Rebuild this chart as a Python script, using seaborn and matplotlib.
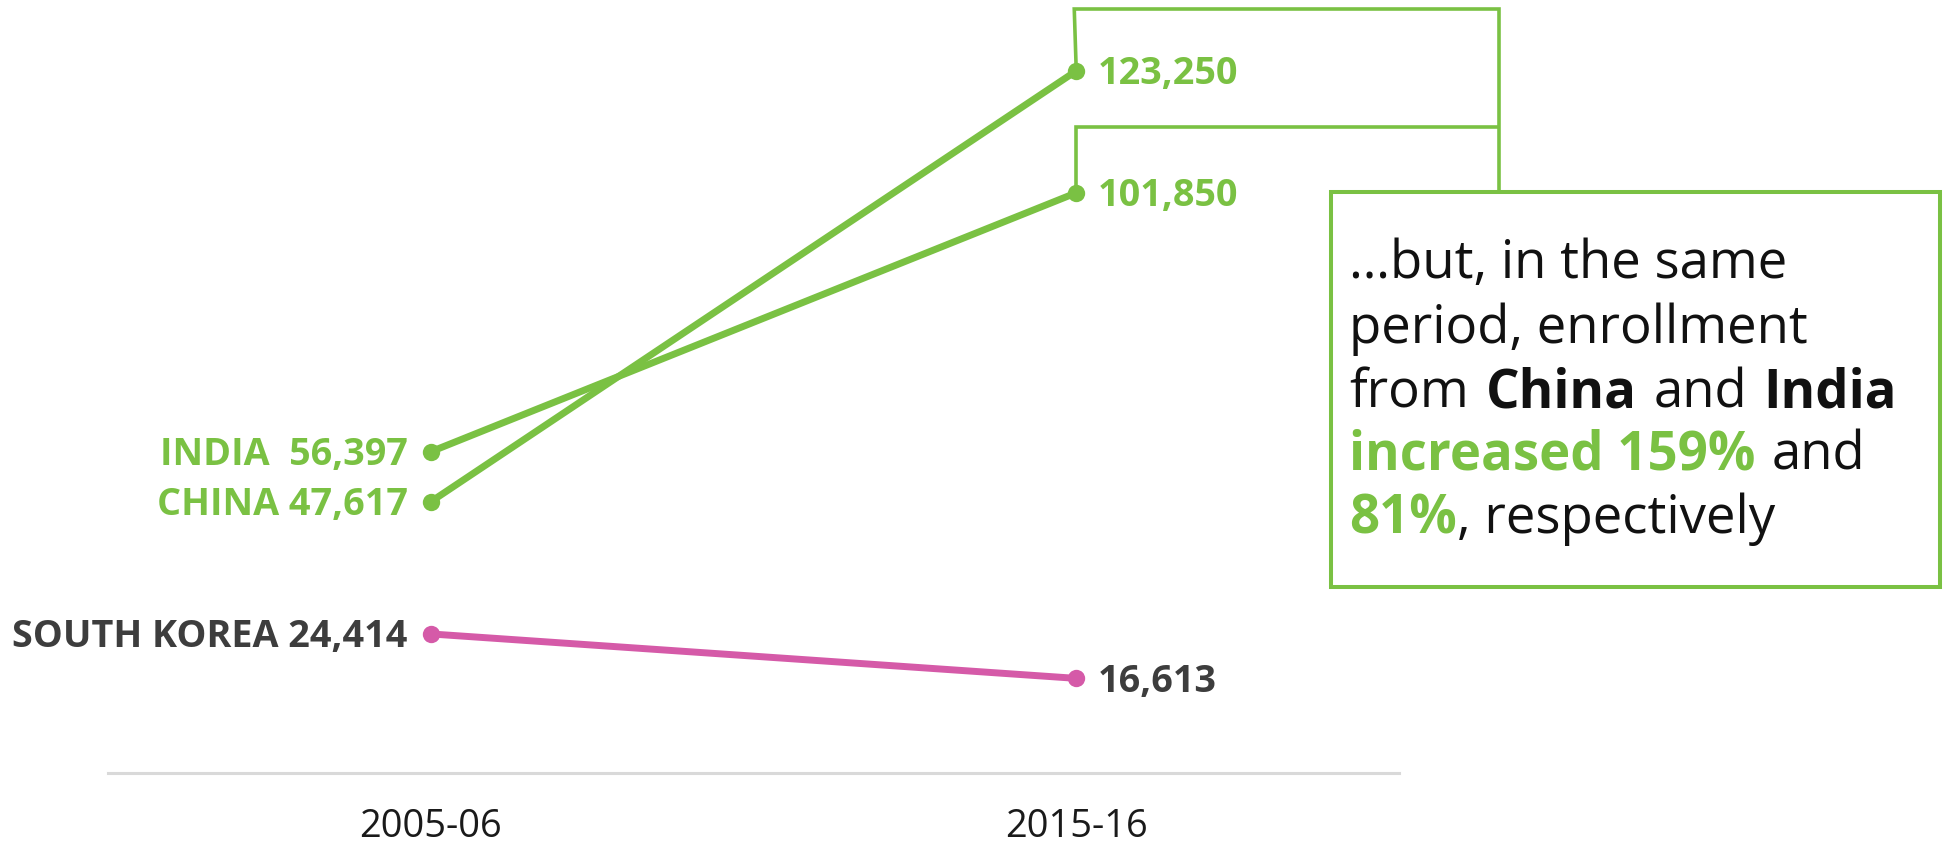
import numpy as np
import pandas as pd
import matplotlib
matplotlib.use("Agg")
import matplotlib.pyplot as plt
import seaborn as sns
from matplotlib.transforms import IdentityTransform
from matplotlib.lines import Line2D
from matplotlib.patches import Rectangle

# ---------------- data ----------------
periods = ["2005-06", "2015-16"]
countries = ["INDIA", "CHINA", "SOUTH KOREA"]
india = [56397, 101850]
china = [47617, 123250]
south_korea = [24414, 16613]

GREEN = "#7AC143"
PINK = "#D55AA8"
DARK = "#3D3D3D"
BLACK = "#111111"

sns.set_theme(style="white")
plt.rcParams["font.family"] = ["Open Sans", "DejaVu Sans"]

W, H, DPI = 1947, 844, 100
fig = plt.figure(figsize=(W / DPI, H / DPI), dpi=DPI)
fig.patch.set_facecolor("white")
AX_BOTTOM_PX = 773
ax = fig.add_axes([108 / W, 1 - AX_BOTTOM_PX / H, (1399 - 108) / W, AX_BOTTOM_PX / H])
ax.set_facecolor("white")

df = pd.DataFrame({
    "country": np.repeat(countries, len(periods)),
    "pos": list(range(len(periods))) * len(countries),
    "value": india + china + south_korea,
})
palette = {"INDIA": GREEN, "CHINA": GREEN, "SOUTH KOREA": PINK}
sns.lineplot(data=df, x="pos", y="value", hue="country", palette=palette,
             marker="o", markersize=12.5, markeredgewidth=0, linewidth=5.0,
             legend=False, ax=ax)

ax.set_xlim(-0.5, 1.5)
ax.set_ylim(0, 135700)
for s in ["top", "left", "right"]:
    ax.spines[s].set_visible(False)
ax.spines["bottom"].set_color("#D9D9D9")
ax.spines["bottom"].set_linewidth(2.2)
ax.set_yticks([])
ax.set_xticks(range(len(periods)))
ax.set_xticklabels(periods, fontsize=27.4, color="#1A1A1A")
ax.tick_params(axis="x", length=0, pad=25)
ax.set_xlabel("")
ax.set_ylabel("")

# ---------------- labels ----------------
series = {"INDIA": india, "CHINA": china, "SOUTH KOREA": south_korea}
name_colors = {"INDIA": GREEN, "CHINA": GREEN, "SOUTH KOREA": DARK}
name_gap = {"INDIA": "  ", "CHINA": " ", "SOUTH KOREA": " "}
LFS = 27.15
cap_half = 0.714 * LFS * DPI / 72 / 2
for c in countries:
    v0, v1 = series[c]
    col = name_colors[c]
    ax.annotate(f"{c}{name_gap[c]}{v0:,}", xy=(0, v0), xytext=(-23, -cap_half),
                textcoords="offset pixels", ha="right", va="baseline",
                fontsize=LFS, fontweight="bold", color=col)
    ax.annotate(f"{v1:,}", xy=(1, v1), xytext=(21, -cap_half),
                textcoords="offset pixels", ha="left", va="baseline",
                fontsize=LFS, fontweight="bold", color=col)

# ---------------- bracket + box ----------------
def disp(x, y_down):
    return x, H - y_down

ident = IdentityTransform()
pc = ax.transData.transform((1, china[1]))
pi = ax.transData.transform((1, india[1]))
BR_X = 1499
bx, by0 = disp(BR_X, 9)
_, by1 = disp(BR_X, 127)
_, boxtop = disp(BR_X, 192)
fig.add_artist(Line2D([pc[0], pc[0] - 2, bx, bx], [pc[1], by0, by0, boxtop],
                      transform=ident, color=GREEN, lw=2.6,
                      solid_joinstyle="miter", solid_capstyle="butt"))
fig.add_artist(Line2D([pi[0], pi[0], bx], [pi[1], by1, by1],
                      transform=ident, color=GREEN, lw=2.6,
                      solid_joinstyle="miter", solid_capstyle="butt"))
BOX_L, BOX_R, BOX_T, BOX_B = 1331, 1940, 192, 587
fig.add_artist(Rectangle((BOX_L, H - BOX_B), BOX_R - BOX_L, BOX_B - BOX_T,
                         transform=ident, fill=False, ec=GREEN, lw=2.9,
                         joinstyle="miter"))

# ---------------- box text ----------------
BFS = 38
lines = [
    [("…but, in the same", "normal", BLACK)],
    [("period, enrollment", "normal", BLACK)],
    [("from", "normal", BLACK), ("China", "bold", BLACK),
     ("and", "normal", BLACK), ("India", "bold", BLACK)],
    [("increased 159%", "bold", GREEN), ("and", "normal", BLACK)],
    [("81%", "bold", GREEN), (", respectively", "normal", BLACK)],
]
baselines = [278, 343, 407, 470, 533]
renderer = fig.canvas.get_renderer()
space_px = 0.26 * BFS * DPI / 72 + 3
TX = 1349
for pieces, bl in zip(lines, baselines):
    x = TX
    for i, (s, wt, col) in enumerate(pieces):
        if i > 0 and not s.startswith(","):
            x += space_px
        t = fig.text(x / W, 1 - bl / H, s, fontsize=BFS, fontweight=wt,
                     color=col, ha="left", va="baseline")
        bb = t.get_window_extent(renderer)
        x = bb.x1

fig.savefig("out.png", dpi=DPI, facecolor="white")
